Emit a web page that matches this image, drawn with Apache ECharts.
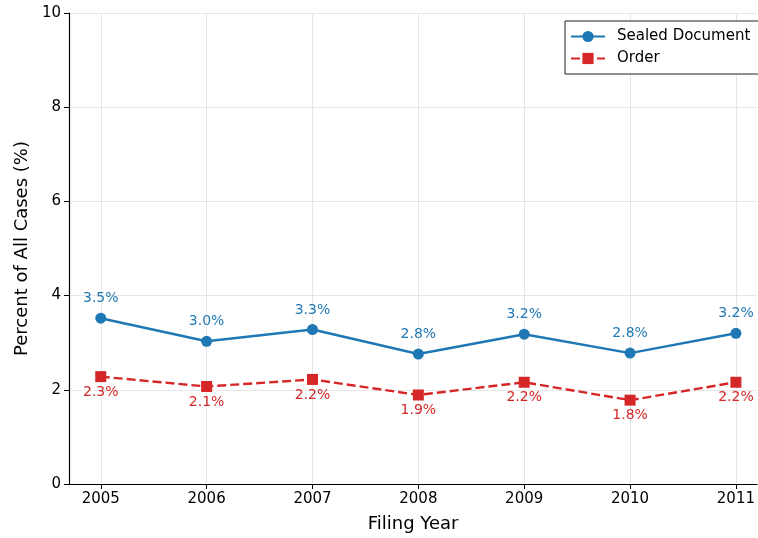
<!DOCTYPE html>
<html><head><meta charset="utf-8">
<script src="https://cdn.jsdelivr.net/npm/echarts@6/dist/echarts.min.js"></script>
<style>html,body{margin:0;padding:0;background:#fff}#c{width:758px;height:538px}</style>
</head><body><div id="c"></div>
<script>
const years = [2005, 2006, 2007, 2008, 2009, 2010, 2011];
const sealedDocument = [3.52, 3.03, 3.28, 2.76, 3.18, 2.78, 3.20];
const order = [2.28, 2.07, 2.22, 1.89, 2.16, 1.78, 2.16];
const yTicks = [0, 2, 4, 6, 8, 10];

const font = 'DejaVu Sans';
const chart = echarts.init(document.getElementById('c'), null, {renderer: 'canvas'});
chart.setOption({
  animation: false,
  backgroundColor: '#fff',
  textStyle: {fontFamily: font},
  grid: {left: 69, right: 0, top: 13, bottom: 53, containLabel: false},
  legend: {
    left: 565, top: 21, orient: 'vertical',
    padding: [8, 24, 8, 5], itemGap: 7,
    itemWidth: 34, itemHeight: 14,
    borderColor: '#222', borderWidth: 1, borderRadius: 0,
    backgroundColor: '#fff',
    textStyle: {fontFamily: font, fontSize: 15, color: '#000', padding: [0, 0, 0, 7]},
    data: ['Sealed Document', 'Order']
  },
  xAxis: {
    type: 'value', min: 2004.7, max: 2011.2,
    name: 'Filing Year', nameLocation: 'middle', nameGap: 31,
    nameTextStyle: {fontFamily: font, fontSize: 18, color: '#000'},
    axisLine: {show: true, onZero: false, lineStyle: {color: '#000', width: 1.2}},
    axisTick: {show: true, customValues: years, length: 5, lineStyle: {color: '#000'}},
    axisLabel: {customValues: years, fontSize: 15, color: '#000', margin: 8, formatter: v => String(v)},
    splitLine: {show: true, lineStyle: {color: '#e6e6e6', width: 1}}
  },
  yAxis: {
    type: 'value', min: 0, max: 10, interval: 2,
    name: 'Percent of All Cases (%)', nameLocation: 'middle', nameGap: 38,
    nameTextStyle: {fontFamily: font, fontSize: 18, color: '#000'},
    axisLine: {show: true, lineStyle: {color: '#000', width: 1.2}},
    axisTick: {show: true, length: 5, lineStyle: {color: '#000'}},
    axisLabel: {fontSize: 15, color: '#000', margin: 8},
    splitLine: {show: true, lineStyle: {color: '#e6e6e6', width: 1}}
  },
  series: [
    {
      name: 'Sealed Document', type: 'line',
      data: years.map((y, i) => [y, sealedDocument[i]]),
      color: '#1f77b4',
      symbol: 'circle', symbolSize: 11,
      lineStyle: {width: 2.4, color: '#1f77b4'},
      itemStyle: {color: '#1f77b4'},
      label: {show: true, position: 'top', distance: 7, color: '#1f77b4', fontSize: 14,
        formatter: p => p.value[1].toFixed(1) + '%'}
    },
    {
      name: 'Order', type: 'line',
      data: years.map((y, i) => [y, order[i]]),
      color: '#d62728',
      symbol: 'rect', symbolSize: 11,
      lineStyle: {width: 2.4, type: [9, 4], color: '#d62728'},
      itemStyle: {color: '#d62728'},
      label: {show: true, position: 'bottom', distance: 3, color: '#d62728', fontSize: 14,
        formatter: p => p.value[1].toFixed(1) + '%'}
    }
  ]
});
</script></body></html>
